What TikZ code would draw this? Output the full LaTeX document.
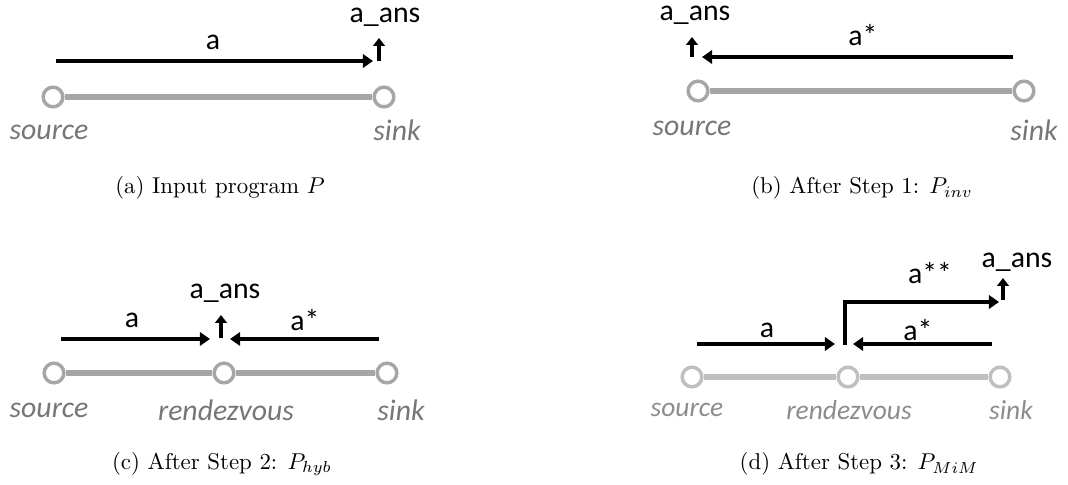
\documentclass[tikz,border=0pt]{standalone}
\usepackage{fontspec}
\newfontfamily\labelfont{Carlito}
\usetikzlibrary{arrows.meta}
\definecolor{trackgray}{RGB}{166,166,166}
\definecolor{lighttrack}{RGB}{191,191,191}
\definecolor{placegray}{RGB}{118,118,118}
\definecolor{lightplace}{RGB}{140,140,140}
\tikzset{
  flow/.style={line width=1.6pt,-{Triangle[length=4.4pt,width=5.8pt]}},
  ans/.style={line width=1.6pt,-{Triangle[length=3.4pt,width=5pt]}},
  track/.style={line width=3pt,draw=trackgray},
  stop/.style={circle,draw=trackgray,fill=white,line width=1.5pt,minimum size=8.6pt,inner sep=0pt},
  var/.style={font=\labelfont\fontsize{13}{15}\selectfont,inner sep=0pt},
  place/.style={font=\labelfont\itshape\fontsize{13}{15}\selectfont,text=placegray,inner sep=0pt},
  subcap/.style={font=\normalsize,inner sep=0pt}
}
\begin{document}
\begin{tikzpicture}[x=0.437pt,y=-0.437pt]
\useasboundingbox (0,0) rectangle (1068,485);

% (a) input program
\coordinate (a-in) at (56,61);
\coordinate (a-out) at (373,61);
\coordinate (a-up0) at (379,61);
\coordinate (a-up1) at (379,38);
\draw[flow] (a-in) -- (a-out);
\draw[ans] (a-up0) -- (a-up1);
\node[var] (a-lbl) at (213,42) {a};
\node[var] (a-anslbl) at (385,17) {a\_ans};
\node[stop] (a-src) at (53,97) {};
\node[stop] (a-snk) at (384,97) {};
\draw[track] (a-src) -- (a-snk);
\node[place] (a-srclbl) at (49,132) {source};
\node[place] (a-snklbl) at (397,130) {sink};
\node[subcap] (a-cap) at (220,188) {(a) Input program $P$};

% (b) after step 1
\coordinate (b-in) at (1013,57);
\coordinate (b-out) at (702,57);
\coordinate (b-up0) at (692,57);
\coordinate (b-up1) at (692,37);
\draw[flow] (b-in) -- (b-out);
\draw[ans] (b-up0) -- (b-up1);
\node[var] (b-lbl) at (863,35) {a*};
\node[var] (b-anslbl) at (695,15) {a\_ans};
\node[stop] (b-src) at (698,91) {};
\node[stop] (b-snk) at (1024,91) {};
\draw[track] (b-src) -- (b-snk);
\node[place] (b-srclbl) at (692,128) {source};
\node[place] (b-snklbl) at (1034,130) {sink};
\node[subcap] (b-cap) at (862,188) {(b) After Step 1: $P_{inv}$};

% (c) after step 2
\coordinate (c-fin) at (61,339);
\coordinate (c-fout) at (210,339);
\coordinate (c-bin) at (379,339);
\coordinate (c-bout) at (230,339);
\coordinate (c-up0) at (221,338);
\coordinate (c-up1) at (221,315);
\draw[flow] (c-fin) -- (c-fout);
\draw[flow] (c-bin) -- (c-bout);
\draw[ans] (c-up0) -- (c-up1);
\node[var] (c-flbl) at (132,320) {a};
\node[var] (c-blbl) at (305,320) {a*};
\node[var] (c-anslbl) at (225,293) {a\_ans};
\node[stop] (c-src) at (54,373) {};
\node[stop] (c-mid) at (224,373) {};
\node[stop] (c-snk) at (387,373) {};
\draw[track] (c-src) -- (c-mid);
\draw[track] (c-mid) -- (c-snk);
\node[place] (c-srclbl) at (49,410) {source};
\node[place] (c-midlbl) at (226,410) {rendezvous};
\node[place] (c-snklbl) at (401,410) {sink};
\node[subcap] (c-cap) at (222,464) {(c) After Step 2: $P_{hyb}$};

% (d) after step 3
\coordinate (d-fin) at (697,344);
\coordinate (d-fout) at (835,344);
\coordinate (d-bin) at (992,344);
\coordinate (d-bout) at (853,344);
\coordinate (d-turn0) at (845,345);
\coordinate (d-turn1) at (845,302);
\coordinate (d-turn2) at (999,302);
\coordinate (d-up0) at (1003,300);
\coordinate (d-up1) at (1003,278);
\draw[flow] (d-fin) -- (d-fout);
\draw[flow] (d-bin) -- (d-bout);
\draw[flow] (d-turn0) -- (d-turn1) -- (d-turn2);
\draw[ans] (d-up0) -- (d-up1);
\node[var] (d-flbl) at (767,330) {a};
\node[var] (d-blbl) at (918,330) {a*};
\node[var] (d-tlbl) at (930,273) {a**};
\node[var] (d-anslbl) at (1017,262) {a\_ans};
\node[stop,draw=lighttrack] (d-src) at (692,377) {};
\node[stop,draw=lighttrack] (d-mid) at (848,377) {};
\node[stop,draw=lighttrack] (d-snk) at (1000,377) {};
\draw[track,draw=lighttrack] (d-src) -- (d-mid);
\draw[track,draw=lighttrack] (d-mid) -- (d-snk);
\node[place,text=lightplace,font=\labelfont\itshape\fontsize{12}{14}\selectfont] (d-srclbl) at (687,410) {source};
\node[place,text=lightplace,font=\labelfont\itshape\fontsize{12}{14}\selectfont] (d-midlbl) at (849,410) {rendezvous};
\node[place,text=lightplace,font=\labelfont\itshape\fontsize{12}{14}\selectfont] (d-snklbl) at (1011,410) {sink};
\node[subcap] (d-cap) at (859,464) {(d) After Step 3: $P_{MiM}$};
\end{tikzpicture}
\end{document}
